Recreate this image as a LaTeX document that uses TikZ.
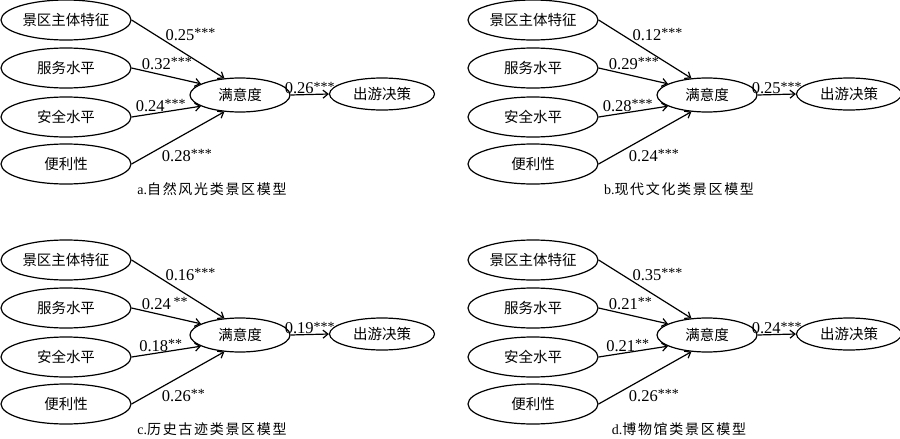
\documentclass[tikz,border=0pt]{standalone}
\usepackage{fontspec}
\setmainfont{Liberation Serif}
\newfontfamily\cjk{Noto Sans CJK SC}
\newfontfamily\cjkcap[LetterSpace=12]{Noto Sans CJK SC}
\usetikzlibrary{arrows.meta,shapes.geometric}
\newcommand{\sig}[1]{{\fontsize{14}{14}\selectfont\raisebox{2.5pt}{#1}}}

\begin{document}
\begin{tikzpicture}[x = 1pt, y = -1pt, every node/.style = {inner sep = 1pt, font = \fontsize{16.5}{18}\selectfont},
    factor/.style = {ellipse, draw = black, line width = 1.2pt, minimum width = 130pt, minimum height = 40pt, font = \fontsize{14.5}{16}\selectfont\cjk},
    mid/.style = {factor, minimum width = 100pt, minimum height = 34pt},
    link/.style = {draw = black, line width = 1.2pt, -{Straight Barb[length = 5pt, width = 8pt]}}]

	\useasboundingbox (0, 0) rectangle (900, 439);

    \foreach \ox/\oy/\p/\la/\lb/\lc/\ld/\le/\cap in {
    0/0/a/{0.25\sig{***}}/{0.32\sig{***}}/{0.24\sig{***}}/{0.28\sig{***}}/{0.26\sig{***}}/{a.{\cjkcap 自然风光类景区模型}},
    467/0/b/{0.12\sig{***}}/{0.29\sig{***}}/{0.28\sig{***}}/{0.24\sig{***}}/{0.25\sig{***}}/{b.{\cjkcap 现代文化类景区模型}},
    0/240/c/{0.16\sig{***}}/{0.24\,\sig{**}}/{0.18\sig{**}}/{0.26\sig{**}}/{0.19\sig{***}}/{c.{\cjkcap 历史古迹类景区模型}},
    467/240/d/{0.35\sig{***}}/{0.21\sig{**}}/{0.21\sig{**}}/{0.26\sig{***}}/{0.24\sig{***}}/{d.{\cjkcap 博物馆类景区模型}}}
    {
    \begin{scope}[shift = {(\ox, \oy)}]
	\node (JQ\p) at ( 66,  20) [factor] {景区主体特征};
	\node (FW\p) at ( 66,  68) [factor] {服务水平};
	\node (AQ\p) at ( 66, 117) [factor] {安全水平};
	\node (BL\p) at ( 66, 164) [factor] {便利性};
	\node (MY\p) at (240,  95) [mid] {满意度};
	\node (CY\p) at (382,  94) [mid, minimum width = 105pt, minimum height = 32pt] {出游决策};
	\node (TT\p) at (212, 189) [font = \fontsize{14}{16}\selectfont] {\cap};

    \path (JQ\p.east) edge [link] node[pos = 0.36, anchor = south west, inner sep = 0pt] {\la} (MY\p.133);
    \path (FW\p.east) edge [link] node[pos = 0.14, anchor = south west, inner sep = 0pt] {\lb} (MY\p.164);
    \path (AQ\p.east) edge [link] node[pos = 0.42, anchor = south, inner sep = 0.5pt] {\lc} (MY\p.196);
    \path (BL\p.east) edge [link] node[pos = 0.31, anchor = north west] {\ld} (MY\p.227);
    \path (MY\p.east) edge [link] node[midway, anchor = south, inner sep = 0pt] {\le} (CY\p.west);
    \end{scope}
    }

\end{tikzpicture}
\end{document}
